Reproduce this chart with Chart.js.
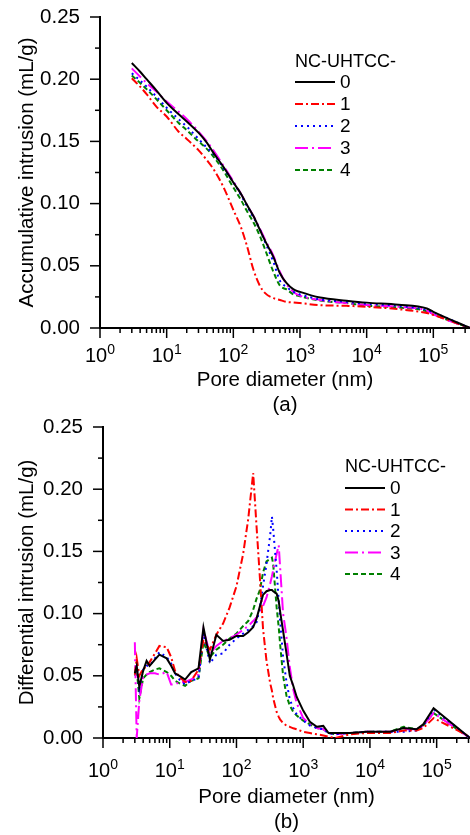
<!DOCTYPE html>
<html lang="en">
<head>
<meta charset="UTF-8">
<title>NC-UHTCC MIP</title>
<script src="https://cdn.jsdelivr.net/npm/chart.js@4.4.1/dist/chart.umd.min.js"></script>
<style>
  body { margin: 0; background: #fff; }
  .janela { position: relative; width: 470px; height: 835px; }
  #graficoA { position: absolute; left: 0; top: 0; }
  #graficoB { position: absolute; left: 0; top: 410px; }
</style>
</head>
<body>
<div class="janela">
  <canvas id="graficoA" width="470" height="420"></canvas>
  <canvas id="graficoB" width="470" height="425"></canvas>
</div>
<script>
// series names / styles
const nomes = ['0', '1', '2', '3', '4'];
const cores = ['#000000', '#ff0000', '#0000ff', '#ff00ff', '#008000'];
const tracos = [[], [8, 3, 2, 3], [2, 4], [13, 4, 2, 4], [5, 3]];

const yTicks = [0, 0.05, 0.10, 0.15, 0.20, 0.25];
const xTicks = [1, 10, 100, 1000, 10000, 100000];

// (a) accumulative intrusion (mL/g) vs pore diameter (nm)
const diamA = [3, 4, 5, 7, 10, 15, 20, 30, 40, 50, 70, 100, 130, 160, 200, 250, 300, 400, 500, 630, 800, 1000, 2000, 5000, 10000, 30000, 80000, 100000, 355000];
const acum0 = [0.213, 0.206, 0.200, 0.191, 0.181, 0.172, 0.166, 0.157, 0.149, 0.141, 0.130, 0.117, 0.108, 0.099, 0.090, 0.079, 0.070, 0.057, 0.044, 0.036, 0.031, 0.029, 0.0245, 0.022, 0.0204, 0.0187, 0.0157, 0.013, 0];
const acum1 = [0.2007, 0.194, 0.188, 0.178, 0.170, 0.158, 0.152, 0.143, 0.135, 0.128, 0.114, 0.095, 0.081, 0.066, 0.047, 0.034, 0.028, 0.024, 0.0225, 0.021, 0.0205, 0.020, 0.0184, 0.0178, 0.0171, 0.0151, 0.012, 0.0105, 0];
const acum2 = [0.2047, 0.199, 0.194, 0.186, 0.177, 0.168, 0.162, 0.152, 0.145, 0.140, 0.129, 0.117, 0.107, 0.098, 0.089, 0.079, 0.069, 0.053, 0.038, 0.033, 0.029, 0.027, 0.023, 0.021, 0.0195, 0.0178, 0.0145, 0.0125, 0];
const acum3 = [0.2087, 0.202, 0.197, 0.190, 0.182, 0.174, 0.168, 0.158, 0.150, 0.143, 0.131, 0.118, 0.108, 0.099, 0.090, 0.080, 0.071, 0.058, 0.045, 0.035, 0.029, 0.026, 0.0225, 0.020, 0.0185, 0.017, 0.014, 0.011, 0];
const acum4 = [0.203, 0.197, 0.192, 0.184, 0.175, 0.165, 0.159, 0.150, 0.144, 0.138, 0.127, 0.113, 0.103, 0.094, 0.085, 0.074, 0.063, 0.045, 0.034, 0.031, 0.027, 0.0255, 0.022, 0.020, 0.018, 0.0165, 0.0135, 0.011, 0];

// (b) differential intrusion (mL/g) vs pore diameter (nm)
const diamB = [3.0, 3.2, 3.5, 4.0, 4.5, 5.0, 6.0, 7.0, 9.0, 10.5, 12, 14, 17, 21, 27, 32, 40, 50, 63, 79, 100, 126, 150, 178, 200, 225, 250, 282, 320, 340, 355, 400, 430, 450, 500, 562, 630, 710, 800, 1000, 1260, 1600, 2000, 2400, 3000, 5000, 9000, 20000, 32000, 50000, 63000, 90000, 316000];
const dif0 = [0.052, 0.058, 0.041, 0.054, 0.062, 0.058, 0.063, 0.067, 0.064, 0.058, 0.052, 0.050, 0.047, 0.053, 0.056, 0.089, 0.063, 0.083, 0.078, 0.079, 0.082, 0.082, 0.085, 0.089, 0.096, 0.106, 0.115, 0.118, 0.119, 0.119, 0.118, 0.116, 0.110, 0.102, 0.086, 0.068, 0.050, 0.042, 0.033, 0.022, 0.013, 0.009, 0.0097, 0.004, 0.004, 0.004, 0.005, 0.005, 0.008, 0.007, 0.011, 0.024, 0];
const dif1 = [0.051, 0.064, 0.050, 0.056, 0.057, 0.061, 0.068, 0.074, 0.073, 0.065, 0.054, 0.049, 0.045, 0.046, 0.055, 0.079, 0.071, 0.083, 0.092, 0.105, 0.122, 0.148, 0.176, 0.213, 0.170, 0.128, 0.088, 0.062, 0.044, 0.038, 0.032, 0.021, 0.017, 0.015, 0.012, 0.010, 0.009, 0.0078, 0.007, 0.005, 0.004, 0.003, 0.002, 0.001, 0, 0.003, 0.004, 0.004, 0.006, 0.006, 0.008, 0.016, 0.001];
const dif2 = [0.052, 0.058, 0.040, 0.055, 0.058, 0.058, 0.064, 0.069, 0.065, 0.060, 0.052, 0.047, 0.043, 0.046, 0.048, 0.084, 0.060, 0.067, 0.068, 0.075, 0.080, 0.084, 0.087, 0.090, 0.093, 0.105, 0.122, 0.140, 0.163, 0.178, 0.168, 0.135, 0.110, 0.095, 0.065, 0.045, 0.031, 0.024, 0.019, 0.014, 0.010, 0.008, 0.007, 0.004, 0.003, 0.004, 0.005, 0.005, 0.005, 0.006, 0.010, 0.023, 0];
const dif3 = [0.077, 0, 0.030, 0.049, 0.051, 0.052, 0.052, 0.051, 0.053, 0.043, 0.043, 0.045, 0.045, 0.047, 0.051, 0.087, 0.068, 0.074, 0.078, 0.080, 0.083, 0.087, 0.090, 0.094, 0.097, 0.101, 0.106, 0.113, 0.124, 0.130, 0.135, 0.148, 0.155, 0.138, 0.100, 0.081, 0.057, 0.039, 0.028, 0.016, 0.011, 0.008, 0.007, 0.004, 0.003, 0.004, 0.005, 0.005, 0.007, 0.007, 0.010, 0.020, 0];
const dif4 = [0.050, 0.055, 0.032, 0.048, 0.051, 0.053, 0.055, 0.056, 0.053, 0.050, 0.046, 0.044, 0.042, 0.046, 0.048, 0.077, 0.065, 0.071, 0.075, 0.080, 0.084, 0.090, 0.094, 0.103, 0.112, 0.119, 0.133, 0.142, 0.144, 0.145, 0.140, 0.105, 0.089, 0.076, 0.050, 0.034, 0.026, 0.021, 0.018, 0.014, 0.011, 0.008, 0.007, 0.004, 0.003, 0.004, 0.005, 0.005, 0.009, 0.007, 0.010, 0.020, 0];

const FONTE = "Arial, 'Liberation Sans', sans-serif";

// ticks, tick labels (10^n) and the legend, drawn over the chart
const eixosPlugin = {
  id: 'eixos',
  afterDraw(chart, args, opts) {
    const ctx = chart.ctx;
    const xs = chart.scales.x;
    const ys = chart.scales.y;
    const a = chart.chartArea;
    ctx.save();
    ctx.strokeStyle = '#000';
    ctx.fillStyle = '#000';
    ctx.lineWidth = 1.5;

    // x ticks (major at decades, minor 2..9)
    for (let k = 0; k <= 5; k++) {
      for (let m = 1; m <= 9; m++) {
        const v = m * Math.pow(10, k);
        if (v > xs.max) break;
        const px = xs.getPixelForValue(v);
        const len = m === 1 ? 10 : 5;
        ctx.beginPath();
        ctx.moveTo(px, a.bottom);
        ctx.lineTo(px, a.bottom + len);
        ctx.stroke();
      }
    }
    // y ticks
    for (let i = 0; i <= 10; i++) {
      const py = ys.getPixelForValue(i * 0.025);
      const len = i % 2 === 0 ? 10 : 5;
      ctx.beginPath();
      ctx.moveTo(a.left - len, py);
      ctx.lineTo(a.left, py);
      ctx.stroke();
    }

    ctx.font = '20.5px ' + FONTE;
    ctx.textAlign = 'right';
    ctx.textBaseline = 'middle';
    yTicks.forEach(v => ctx.fillText(v.toFixed(2), a.left - 20, ys.getPixelForValue(v)));

    ctx.textAlign = 'left';
    ctx.textBaseline = 'alphabetic';
    xTicks.forEach(v => {
      const px = xs.getPixelForValue(v);
      const exp = String(Math.round(Math.log10(v)));
      ctx.font = '20px ' + FONTE;
      const w1 = ctx.measureText('10').width;
      ctx.font = '14px ' + FONTE;
      const w2 = ctx.measureText(exp).width;
      const x0 = px - (w1 + w2) / 2;
      const yb = a.bottom + opts.rotuloY;
      ctx.font = '20px ' + FONTE;
      ctx.fillText('10', x0, yb);
      ctx.font = '14px ' + FONTE;
      ctx.fillText(exp, x0 + w1, yb - 8);
    });

    // legend
    const lg = opts.legenda;
    ctx.font = '18px ' + FONTE;
    ctx.textBaseline = 'middle';
    ctx.fillText('NC-UHTCC-', lg.x, lg.y);
    chart.data.datasets.forEach((ds, i) => {
      const y = lg.y + lg.primeiro + i * lg.passo;
      ctx.strokeStyle = ds.borderColor;
      ctx.lineWidth = 2;
      ctx.setLineDash(ds.borderDash);
      ctx.beginPath();
      ctx.moveTo(lg.x, y);
      ctx.lineTo(lg.x + 40, y);
      ctx.stroke();
      ctx.setLineDash([]);
      ctx.font = '19px ' + FONTE;
      ctx.fillText(ds.label, lg.x + 45, y + 1);
    });
    ctx.restore();
  }
};

function montarSeries(diam, series) {
  return series.map((vals, i) => ({
    label: nomes[i],
    data: diam.map((d, j) => ({ x: d, y: vals[j] })),
    borderColor: cores[i],
    backgroundColor: cores[i],
    borderDash: tracos[i],
    borderWidth: 2,
    pointRadius: 0,
    tension: 0,
    fill: false
  }));
}

function criarGrafico(id, datasets, cfg) {
  const fonteTitulo = { family: FONTE, size: 20.5, lineHeight: 1.22 };
  return new Chart(document.getElementById(id), {
    type: 'line',
    data: { datasets: datasets },
    options: {
      responsive: false,
      animation: false,
      devicePixelRatio: 1,
      layout: { padding: { top: 17, right: 0, left: 0, bottom: 0 } },
      plugins: {
        legend: { display: false },
        tooltip: { enabled: false },
        eixos: { rotuloY: cfg.rotuloY, legenda: cfg.legenda }
      },
      scales: {
        x: {
          type: 'logarithmic',
          min: 1,
          max: cfg.xMax,
          grid: { display: false },
          border: { display: true, color: '#000', width: 2 },
          ticks: { display: false },
          title: { display: true, text: cfg.tituloX, color: '#000', font: fonteTitulo, padding: { top: 0, bottom: cfg.padX } },
          afterFit: s => { s.height = cfg.alturaX; }
        },
        y: {
          min: 0,
          max: 0.25,
          grid: { display: false },
          border: { display: true, color: '#000', width: 2 },
          ticks: { display: false },
          title: { display: true, text: cfg.tituloY, color: '#000', font: fonteTitulo, padding: { top: 15, bottom: 0 } },
          afterFit: s => { s.width = cfg.larguraY; }
        }
      }
    },
    plugins: [eixosPlugin]
  });
}

const dsA = montarSeries(diamA, [acum0, acum1, acum2, acum3, acum4]);
dsA.forEach(d => { d.cubicInterpolationMode = 'monotone'; });

criarGrafico('graficoA', dsA, {
  xMax: 355000,
  larguraY: 100,
  alturaX: 92,
  padX: 2,
  rotuloY: 34,
  tituloX: ['Pore diameter (nm)', '(a)'],
  tituloY: 'Accumulative intrusion (mL/g)',
  legenda: { x: 295, y: 62, primeiro: 20, passo: 22 }
});

criarGrafico('graficoB', montarSeries(diamB, [dif0, dif1, dif2, dif3, dif4]), {
  xMax: 316000,
  larguraY: 103,
  alturaX: 97,
  padX: 0,
  rotuloY: 39,
  tituloX: ['Pore diameter (nm)', '(b)'],
  tituloY: 'Differential intrusion (mL/g)',
  legenda: { x: 345, y: 57, primeiro: 21, passo: 21.5 }
});
</script>
</body>
</html>
